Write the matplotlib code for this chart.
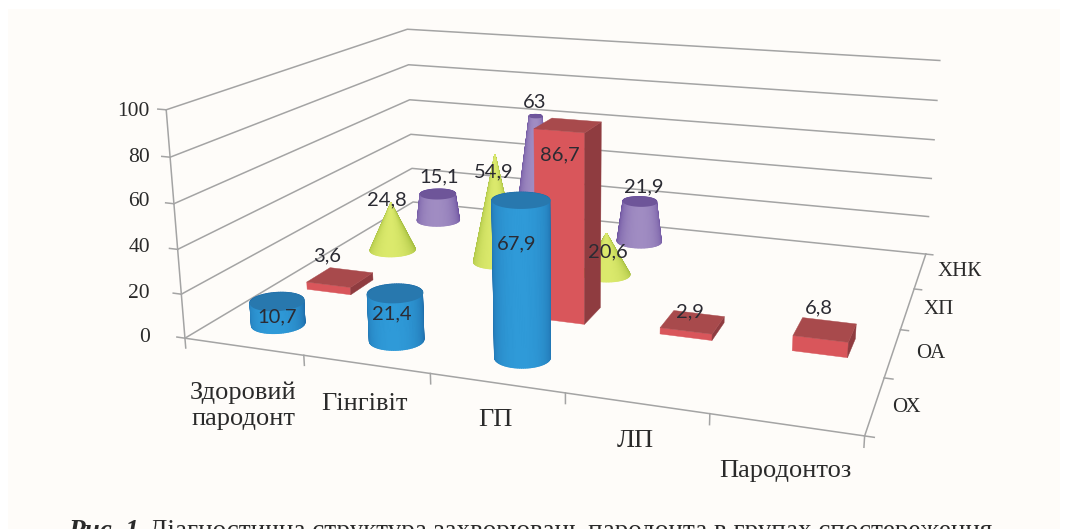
import numpy as np
import matplotlib
matplotlib.use("Agg")
import matplotlib.pyplot as plt
from matplotlib.patches import Rectangle
from matplotlib.transforms import offset_copy
from mpl_toolkits.mplot3d import proj3d
from mpl_toolkits.mplot3d.art3d import Poly3DCollection

W, H = 1070, 529

categories = ["Здоровий\nпародонт", "Гінгівіт", "ГП", "ЛП", "Пародонтоз"]
series = ["ОХ", "ОА", "ХП", "ХНК"]
ox = [10.7, 21.4, 67.9, None, None]
oa = [3.6, None, 86.7, 2.9, 6.8]
hp = [24.8, 54.9, 20.6, None, None]
hnk = [15.1, 63, 21.9, None, None]
z_ticks = [0, 20, 40, 60, 80, 100]

AZIM = -71.154
S, X0, Y0 = 798.11, 178.16, -70.76

fig = plt.figure(figsize=(W / 100, H / 100), dpi=100, facecolor="#ffffff")
ax = fig.add_axes([X0 / W, Y0 / H, S / W, S / H], projection="3d", computed_zorder=False)
ax.set_axis_off()
ax.patch.set_alpha(0)
ax.set_xlim(0, 5)
ax.set_ylim(0, 4)
ax.set_zlim(0, 100)
ax.view_init(elev=15.647, azim=AZIM, roll=-0.141)
ax.set_proj_type("persp", focal_length=0.319)
ax.set_box_aspect((2.887, 2.224, 1))

fig.patches.append(Rectangle((8 / W, 0), 1052 / W, 1 - 9 / H, transform=fig.transFigure, facecolor="#fefcf9", edgecolor="none", zorder=-5))

GRID = "#a4a4a4"


def line(xs, ys, zs):
    ax.plot(xs, ys, zs, color=GRID, lw=1.1, zorder=1, clip_on=False)


for z in z_ticks:
    line([0, 0, 5], [0, 4, 4], [z, z, z])
    line([-0.07, 0], [0, 0], [z, z])
line([0, 0], [0, 0], [0, 100])
line([0, 5, 5], [0, 0, 4], [0, 0, 0])
for i in range(6):
    line([i, i], [0, 0], [0, -4.5])
for j in range(5):
    line([5, 5.06], [j, j], [0, 0])

BLUE = ("#1f6eab", "#2f9ad8", "#2878ae")
RED = ("#d9565b", "#a84a4c", "#8f3c40")
GREEN = ("#a6bf3f", "#dbe96c", "#a6bf3f")
PURPLE = ("#6a4f9e", "#a08cc2", "#6e5599")
BAR = 0.40
VMAX = max(v for row in (ox, oa, hp, hnk) for v in row if v is not None)


def mix(c1, c2, t):
    a, b = np.array(matplotlib.colors.to_rgb(c1)), np.array(matplotlib.colors.to_rgb(c2))
    return tuple(a + (b - a) * t)


def round_mark(cx, cy, v, top_frac, cols, zo):
    th = np.linspace(0, 2 * np.pi, 97)
    r0, r1 = BAR / 2, BAR / 2 * top_frac
    verts, face = [], []
    for a, b in zip(th[:-1], th[1:]):
        cosv = np.cos((a + b) / 2 - np.radians(AZIM))
        verts.append([(cx + r0 * np.cos(a), cy + r0 * np.sin(a), 0), (cx + r0 * np.cos(b), cy + r0 * np.sin(b), 0),
                      (cx + r1 * np.cos(b), cy + r1 * np.sin(b), v), (cx + r1 * np.cos(a), cy + r1 * np.sin(a), v)])
        face.append(mix(cols[0], cols[1], max(0, cosv) ** 0.8))
    pc = Poly3DCollection(verts, facecolors=face, edgecolors=face, linewidths=1.0, zorder=zo)
    ax.add_collection3d(pc, autolim=False)
    if top_frac > 0:
        cap = [[(cx + r1 * np.cos(a), cy + r1 * np.sin(a), v) for a in th]]
        ax.add_collection3d(Poly3DCollection(cap, facecolors=cols[2], edgecolors=cols[2], linewidths=1.0, zorder=zo + 0.5), autolim=False)


def box_mark(cx, cy, v, cols, zo):
    a, b = cx - BAR / 2, cx + BAR / 2
    c, d = cy - BAR / 2, cy + BAR / 2
    faces = [([(a, c, 0), (b, c, 0), (b, c, v), (a, c, v)], cols[0]),
             ([(b, c, 0), (b, d, 0), (b, d, v), (b, c, v)], cols[2]),
             ([(a, c, v), (b, c, v), (b, d, v), (a, d, v)], cols[1])]
    for k, (f, col) in enumerate(faces):
        ax.add_collection3d(Poly3DCollection([f], facecolors=col, edgecolors=col, linewidths=0.3, zorder=zo + k * 0.1), autolim=False)


# pixel offset of each value label from the top of its mark
label_shift = {
    (0, 0): (0, 16), (0, 1): (-3, 21), (0, 2): (-4, 44),
    (1, 0): (-12, -21), (1, 2): (-8, 30), (1, 3): (-2, -10), (1, 4): (-6, -21),
    (2, 0): (-4, -4), (2, 1): (-1, 17), (2, 2): (1, 18),
    (3, 0): (1, -17), (3, 1): (-1, -13), (3, 2): (4, -14),
}

rows = [ox, oa, hp, hnk]
M = ax.get_proj()
for j in [3, 2, 1, 0]:
    for i, v in enumerate(rows[j]):
        if v is None:
            continue
        zo = 10 + (3 - j) * 5
        cx, cy = i + 0.5, j + 0.5
        if j == 0:
            round_mark(cx, cy, v, 1.0, BLUE, zo)
        elif j == 1:
            box_mark(cx, cy, v, RED, zo)
        elif j == 2:
            round_mark(cx, cy, v, 0.0, GREEN, zo)
        else:
            round_mark(cx, cy, v, 1 - v / VMAX, PURPLE, zo)
        xp, yp, _ = proj3d.proj_transform(cx, cy, v, M)
        dx, dy = label_shift[(j, i)]
        tr = offset_copy(ax.transData, fig=fig, x=dx, y=-dy, units="dots")
        ax.text2D(float(xp), float(yp), str(v).replace(".", ","), transform=tr, ha="center", va="center",
                  fontsize=14.5, family="Lato", color="#2b2b33", zorder=100)

ax.set_xlim(0, 5)
ax.set_ylim(0, 4)
ax.set_zlim(0, 100)


def ptext(x, y, s, **kw):
    fig.text(x / W, 1 - y / H, s, family="Liberation Serif", color="#2a2a2a", **kw)


for z, y in zip(z_ticks, [337, 293, 248, 202, 157, 111]):
    ptext(150, y, str(z), ha="right", va="center", fontsize=15.5)
for lab, (x, y) in zip(categories, [(243, 406), (364, 404), (495, 420), (635, 441), (785, 471)]):
    ptext(x, y, lab, ha="center", va="center", fontsize=19, linespacing=1.25)
for lab, (x, y) in zip(series, [(906, 407), (931, 354), (939, 309), (960, 272)]):
    ptext(x, y, lab, ha="center", va="center", fontsize=15)

ptext(68, 538, "Рис. 1.", ha="left", va="baseline", fontsize=19.5, weight="bold", style="italic")
ptext(149, 538, "Діагностична структура захворювань пародонта в групах спостереження", ha="left", va="baseline", fontsize=19.5)

fig.savefig("out.png", dpi=100, facecolor=fig.get_facecolor())
